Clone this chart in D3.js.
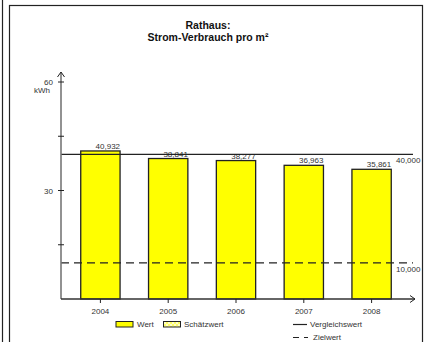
<!DOCTYPE html>
<html><head><meta charset="utf-8">
<script src="https://cdn.jsdelivr.net/npm/d3@7"></script>
<style>
html,body{margin:0;padding:0;background:#fff;}
svg{display:block;font-family:"Liberation Sans",Arial,sans-serif;}
</style></head>
<body>
<svg id="c" width="424" height="342"></svg>
<script>
const years = ["2004","2005","2006","2007","2008"];
const values = [40.932, 38.841, 38.277, 36.963, 35.861];
const valueLabels = ["40,932","38,841","38,277","36,963","35,861"];
const referenceValue = 40;
const referenceLabel = "40,000";
const targetValue = 10;
const targetLabel = "10,000";
const yTicks = [0, 15, 30, 45, 60];
const yTickLabels = {60: "60", 30: "30"};
const titleLines = ["Rathaus:", "Strom-Verbrauch pro m²"];

const svg = d3.select("#c");
const ink = "#222";

// frame
svg.append("line").attr("x1",2.5).attr("x2",2.5).attr("y1",0).attr("y2",342).attr("stroke",ink).attr("stroke-width",1.2);
svg.append("rect").attr("x",9.5).attr("y",5.5).attr("width",413).attr("height",360).attr("fill","none").attr("stroke",ink).attr("stroke-width",1.2);

// title
svg.append("text").attr("x",208).attr("y",29).attr("text-anchor","middle").attr("font-size",10.5).attr("font-weight","bold").attr("fill","#111").text(titleLines[0]);
svg.append("text").attr("x",208).attr("y",41).attr("text-anchor","middle").attr("font-size",10.5).attr("font-weight","bold").attr("fill","#111").text(titleLines[1]);

const y = d3.scaleLinear().domain([0,60]).range([299,82]);
const x = d3.scaleBand().domain(years).range([66.5,405.5]).paddingInner(0.42).paddingOuter(0.21);
const x0 = 61, xEnd = 413;

// bars
svg.selectAll("rect.bar").data(values).join("rect").attr("class","bar")
  .attr("x",(d,i)=>x(years[i])).attr("width",x.bandwidth())
  .attr("y",d=>y(d)).attr("height",d=>y(0)-y(d))
  .attr("fill","#ffff00").attr("stroke","#222").attr("stroke-width",1.3);

// value labels
svg.selectAll("text.val").data(values).join("text").attr("class","val")
  .attr("x",(d,i)=>x(years[i])+x.bandwidth()).attr("y",d=>y(d)-2)
  .attr("text-anchor","end").attr("font-size",8).attr("fill","#333")
  .text((d,i)=>valueLabels[i]);

// reference line
svg.append("line").attr("x1",x0).attr("x2",xEnd).attr("y1",y(referenceValue)).attr("y2",y(referenceValue)).attr("stroke","#222").attr("stroke-width",1.2);
svg.append("text").attr("x",396).attr("y",y(referenceValue)+9).attr("font-size",8).attr("fill","#333").text(referenceLabel);
// target line
svg.append("line").attr("x1",x0).attr("x2",xEnd).attr("y1",y(targetValue)).attr("y2",y(targetValue)).attr("stroke","#222").attr("stroke-width",1.2).attr("stroke-dasharray","8,5");
svg.append("text").attr("x",396).attr("y",y(targetValue)+9).attr("font-size",8).attr("fill","#333").text(targetLabel);

// y axis
const yAxis = svg.append("g");
yAxis.append("line").attr("x1",x0).attr("x2",x0).attr("y1",y(0)).attr("y2",72).attr("stroke","#777").attr("stroke-width",1.6);
yAxis.append("path").attr("d",`M${x0-3.5},${77} L${x0},${72} L${x0+3.5},${77}`).attr("fill","none").attr("stroke","#222").attr("stroke-width",1);
yAxis.selectAll("line.t").data(yTicks.filter(t=>t>0)).join("line").attr("class","t")
  .attr("x1",x0-3).attr("x2",x0+3).attr("y1",d=>y(d)).attr("y2",d=>y(d)).attr("stroke","#222").attr("stroke-width",1);
yAxis.selectAll("text.t").data(yTicks.filter(t=>yTickLabels[t])).join("text").attr("class","t")
  .attr("x",53).attr("y",d=>y(d)+3).attr("text-anchor","end").attr("font-size",8).attr("fill","#333").text(d=>yTickLabels[d]);
svg.append("text").attr("x",50).attr("y",93).attr("text-anchor","end").attr("font-size",8).attr("fill","#333").text("kWh");

// x axis
const xAxis = svg.append("g");
xAxis.append("line").attr("x1",x0).attr("x2",415).attr("y1",y(0)).attr("y2",y(0)).attr("stroke","#333").attr("stroke-width",1.3);
xAxis.append("path").attr("d",`M${410},${y(0)-3.5} L${415},${y(0)} L${410},${y(0)+3.5}`).attr("fill","none").attr("stroke","#222").attr("stroke-width",1);
xAxis.selectAll("line.t").data(years).join("line").attr("class","t")
  .attr("x1",d=>x(d)+x.bandwidth()/2).attr("x2",d=>x(d)+x.bandwidth()/2).attr("y1",y(0)).attr("y2",y(0)+4).attr("stroke","#222").attr("stroke-width",1);
xAxis.selectAll("text.t").data(years).join("text").attr("class","t")
  .attr("x",d=>x(d)+x.bandwidth()/2).attr("y",y(0)+15).attr("text-anchor","middle").attr("font-size",8).attr("fill","#333").text(d=>d);

// legend
const defs = svg.append("defs");
const pat = defs.append("pattern").attr("id","est").attr("width",4).attr("height",4).attr("patternUnits","userSpaceOnUse");
pat.append("rect").attr("width",4).attr("height",4).attr("fill","#ffffcc");
pat.append("rect").attr("width",2).attr("height",2).attr("fill","#ffff66");
pat.append("rect").attr("x",2).attr("y",2).attr("width",2).attr("height",2).attr("fill","#ffff66");

const lg = svg.append("g").attr("font-size",8).attr("fill","#333");
lg.append("rect").attr("x",116).attr("y",321.5).attr("width",17).attr("height",5.5).attr("fill","#ffff00").attr("stroke","#222");
lg.append("text").attr("x",137).attr("y",327).text("Wert");
lg.append("rect").attr("x",163.5).attr("y",321.5).attr("width",17).attr("height",5.5).attr("fill","url(#est)").attr("stroke","#222");
lg.append("text").attr("x",184).attr("y",327).text("Schätzwert");
lg.append("line").attr("x1",293).attr("x2",307).attr("y1",324.5).attr("y2",324.5).attr("stroke","#222").attr("stroke-width",1.2);
lg.append("text").attr("x",310).attr("y",327).text("Vergleichswert");
lg.append("line").attr("x1",293).attr("x2",308).attr("y1",337.5).attr("y2",337.5).attr("stroke","#222").attr("stroke-width",1.2).attr("stroke-dasharray","6,5");
lg.append("text").attr("x",313).attr("y",340).text("Zielwert");
</script>
</body></html>
